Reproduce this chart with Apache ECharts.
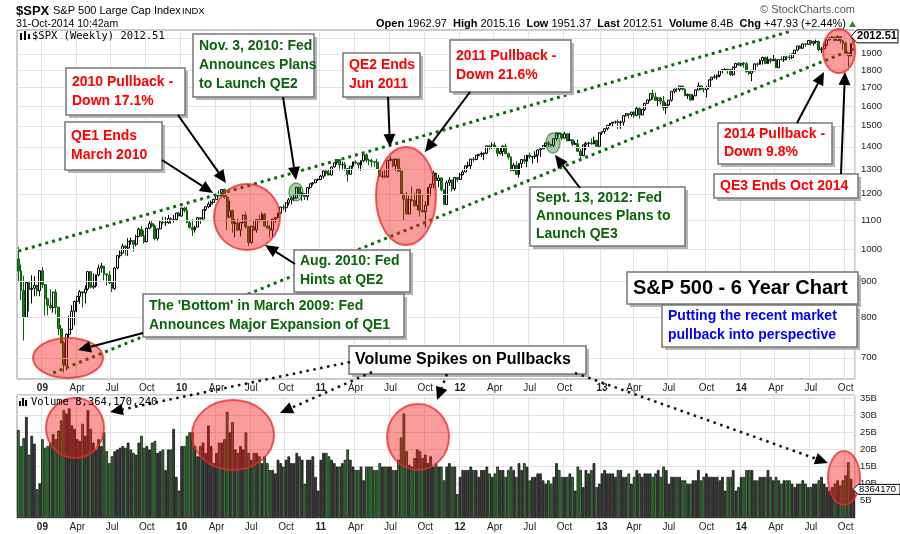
<!DOCTYPE html>
<html>
<head>
<meta charset="utf-8">
<script src="https://cdn.jsdelivr.net/npm/echarts@6/dist/echarts.min.js"></script>
<style>
html,body{margin:0;padding:0;background:#fff;}
#chart{width:900px;height:534px;}
</style>
</head>
<body>
<div id="chart"></div>
<script>
// weekly bars, first week starts Mon 2008-11-03; open = previous close
const firstOpen = 968.75;
const lastOpen = 1962.97;

const close08 = [930.99,873.29,800.03,896.24,876.07,879.73,887.88,872.80,931.80];
const close09 = [890.35,850.12,831.95,825.88,868.60,826.84,770.05,735.09,683.38,756.55,768.54,815.94,842.50,856.56,869.60,866.23,877.52,929.23,882.88,887.00,919.14,940.09,946.21,921.23,918.90,896.42,879.13,940.38,979.26,987.48,1010.48,1004.09,1026.13,1028.93,1016.40,1042.73,1068.30,1044.38,1025.21,1071.49,1087.68,1079.60,1036.19,1069.30,1093.48,1091.38,1091.49,1105.98,1102.47,1102.47,1126.48,1115.10];
const close10 = [1144.98,1136.03,1091.76,1073.87,1066.19,1075.51,1109.17,1104.49,1138.70,1149.99,1159.90,1166.59,1178.10,1194.37,1192.13,1217.28,1186.69,1110.88,1135.68,1087.69,1089.41,1064.88,1091.60,1117.51,1076.76,1022.58,1077.96,1064.88,1102.66,1101.60,1121.64,1079.25,1071.69,1064.59,1104.51,1109.55,1125.59,1148.67,1146.24,1165.15,1176.19,1183.08,1183.26,1225.85,1199.21,1199.73,1189.40,1224.71,1240.40,1243.91,1256.77,1257.64];
const close11 = [1271.50,1293.24,1283.35,1276.34,1310.87,1329.15,1343.01,1319.88,1321.15,1304.28,1279.21,1313.80,1332.41,1328.17,1319.68,1337.38,1363.61,1340.20,1337.77,1333.27,1331.10,1300.16,1270.98,1271.50,1268.45,1339.67,1343.80,1316.14,1345.02,1292.28,1199.38,1178.81,1123.53,1176.80,1173.97,1154.23,1216.01,1136.43,1131.42,1155.46,1224.58,1238.25,1285.09,1253.23,1263.85,1215.65,1158.67,1244.28,1255.19,1219.66,1265.33,1257.60];
const close12 = [1277.81,1289.09,1315.38,1316.33,1344.90,1342.64,1361.23,1365.74,1369.63,1370.87,1404.17,1397.11,1408.47,1398.08,1370.26,1378.53,1403.36,1369.10,1353.39,1295.22,1317.82,1278.04,1325.66,1342.84,1335.02,1362.16,1354.68,1356.78,1362.66,1385.97,1390.99,1405.87,1418.16,1411.13,1406.58,1437.92,1465.77,1460.15,1440.67,1460.93,1428.59,1433.19,1411.94,1414.20,1379.85,1359.88,1409.15,1416.18,1418.07,1413.58,1430.15,1402.43,1466.47];
const close13 = [1472.05,1485.98,1502.96,1513.17,1517.93,1519.79,1515.60,1518.20,1551.18,1560.70,1556.89,1569.19,1553.28,1588.85,1555.25,1582.24,1614.42,1633.70,1667.47,1649.60,1630.74,1643.38,1626.73,1592.43,1606.28,1631.89,1680.19,1692.09,1691.65,1709.67,1691.42,1655.83,1663.50,1632.97,1655.17,1687.99,1709.91,1691.75,1690.50,1703.20,1744.50,1759.77,1761.64,1770.61,1798.18,1804.76,1805.81,1805.09,1775.32,1818.32,1841.40,1831.37];
const close14 = [1842.37,1838.70,1790.29,1782.59,1797.02,1838.63,1836.25,1859.45,1878.04,1841.13,1866.52,1857.62,1865.09,1815.69,1864.85,1863.40,1881.14,1878.48,1877.86,1900.53,1923.57,1949.44,1936.16,1962.87,1960.96,1985.44,1967.57,1978.22,1978.34,1925.15,1931.59,1955.06,1988.40,2003.37,2007.71,1985.54,2010.40,1982.85,1967.90,1906.13,1886.76,1964.58,2012.51];

const high08 = [1007,951,917,897,897,918,915,890,934];
const high09 = [943,892,852,877,870,877,827,780,740,758,804,832,845,858,875,870,888,930,930,924,921,951,956,947,925,931,899,942,980,996,1018,1013,1037,1039,1030,1049,1074,1080,1064,1074,1097,1101,1085,1071,1097,1113,1112,1119,1111,1119,1128,1131];
const high10 = [1146,1150,1150,1100,1104,1080,1112,1112,1139,1151,1169,1174,1181,1195,1213,1218,1220,1197,1173,1140,1104,1106,1094,1121,1131,1078,1080,1100,1104,1120,1129,1127,1101,1081,1105,1112,1127,1150,1158,1167,1184,1190,1197,1227,1227,1207,1203,1226,1241,1247,1259,1262];
const high11 = [1277,1294,1296,1302,1312,1330,1344,1344,1333,1332,1305,1315,1333,1339,1329,1339,1365,1371,1347,1346,1334,1346,1301,1293,1298,1341,1356,1345,1347,1346,1307,1200,1208,1191,1230,1204,1220,1220,1195,1171,1225,1240,1293,1285,1277,1266,1217,1254,1267,1255,1265,1269];
const high12 = [1285,1296,1316,1333,1345,1354,1363,1368,1378,1374,1406,1409,1420,1422,1399,1394,1406,1415,1373,1357,1328,1334,1326,1345,1363,1363,1374,1358,1380,1387,1395,1407,1419,1427,1413,1439,1470,1467,1464,1471,1462,1465,1434,1428,1434,1389,1410,1424,1423,1439,1448,1431,1467];
const high13 = [1473,1487,1504,1514,1519,1525,1531,1526,1553,1564,1564,1570,1573,1597,1593,1585,1618,1636,1668,1688,1674,1646,1649,1654,1620,1633,1681,1694,1698,1710,1711,1697,1668,1665,1664,1690,1730,1711,1701,1710,1746,1761,1775,1775,1799,1806,1813,1810,1809,1823,1844,1849];
const high14 = [1843,1850,1850,1798,1798,1841,1847,1867,1883,1882,1884,1875,1897,1874,1866,1884,1885,1888,1902,1902,1925,1950,1955,1964,1968,1986,1986,1984,1991,1985,1943,1964,1992,2005,2012,2010,2019,2011,1986,1978,1906,1965,2015];

const low08 = [898,847,741,799,815,837,857,857,857];
const low09 = [880,804,805,821,812,808,754,734,667,672,747,768,779,814,836,826,837,873,879,878,882,915,926,903,888,892,869,875,936,972,986,980,978,1015,992,1010,1040,1042,1019,1023,1068,1074,1030,1029,1068,1085,1079,1087,1086,1092,1100,1114];
const low10 = [1114,1128,1090,1071,1045,1056,1075,1086,1103,1134,1144,1149,1165,1175,1189,1187,1181,1065,1110,1056,1040,1061,1043,1089,1070,1011,1018,1063,1056,1093,1100,1076,1069,1039,1041,1091,1107,1122,1136,1131,1155,1159,1171,1181,1193,1173,1176,1174,1218,1233,1243,1251];
const low11 = [1257,1262,1271,1275,1274,1308,1320,1294,1302,1294,1249,1278,1303,1322,1304,1294,1331,1330,1317,1311,1311,1298,1268,1262,1263,1265,1335,1308,1294,1290,1198,1101,1120,1121,1170,1150,1137,1114,1127,1075,1155,1191,1222,1215,1227,1209,1158,1158,1231,1209,1212,1248];
const low12 = [1257,1274,1288,1307,1300,1333,1340,1357,1354,1340,1366,1386,1391,1392,1357,1365,1358,1367,1343,1291,1292,1277,1266,1306,1324,1309,1347,1325,1345,1329,1354,1389,1397,1398,1397,1396,1428,1449,1430,1439,1426,1427,1403,1408,1376,1343,1358,1385,1398,1411,1412,1398,1398];
const low13 = [1456,1461,1478,1496,1495,1510,1485,1485,1501,1547,1538,1547,1539,1548,1536,1552,1575,1612,1625,1635,1630,1598,1608,1577,1560,1601,1624,1668,1676,1679,1684,1654,1639,1627,1632,1654,1687,1687,1674,1646,1692,1743,1752,1746,1760,1781,1800,1779,1767,1767,1816,1827];
const low14 = [1823,1815,1789,1772,1737,1795,1822,1834,1834,1839,1839,1842,1856,1813,1814,1859,1850,1859,1863,1868,1899,1915,1930,1931,1944,1958,1953,1952,1965,1916,1905,1928,1950,1986,1996,1980,1984,1966,1926,1899,1821,1886,1951];

// weekly volume, billions of shares
const vol08 = [25.7,21.0,23.3,29.5,18.5,24.0,21.7,8.4,10.1];
const vol09 = [23,20.5,21,22,24.5,23,25.5,28.5,31.5,30.5,32,27,26,23,22.5,27.5,24,31.5,26,22,20,23,21,25,19.5,16,18,19.5,20,20.5,21,20.5,22,20,19,18.5,22,24,20.5,21,20,22,22.5,19,19.5,20,14,20,20,26,12,8];
const vol10 = [21,21,24,25,25,21,18,21,22,19,27,21,16,19,22,22,23,31,25,28,20,19,21,20,25,19,17,19,19,18,16,18,16,14,14,13,17,16,15,17,18,16,16,19,18,17,10,17,17,18,12,8];
const vol11 = [17,19,19,18,17,16,15,15,16,17,20,17,15,14,14,15,11,15,15,15,14,14,16,15,15,15,15,14,14,17,23.5,30.5,19.5,15.5,15,17.5,20,19.5,17.5,18.5,16,18,15,16,15,15,11,15,16,15,15,7];
const vol12 = [12,14,14,14,15,14,14,12,14,14,15,13,12,13,15,14,14,12,14,15,14,12,16,14,16,15,11,12,12,13,13,11,10,11,10,12,16,14,12,12,12,13,12,8,15,14,9,14,13,14,16,9,10];
const vol13 = [13,14,13,13,13,12,14,14,12,12,13,10,12,14,13,12,13,13,13,12,13,14,12,15,14,10,12,12,12,12,11,11,10,10,11,11,14,11,12,13,12,12,12,12,11,12,8,12,12,14,8,9];
const vol14 = [12,12,14,14,14,11,11,12,12,12,14,12,11,12,11,10,11,11,11,10,9,10,10,11,10,9,9,10,10,11,12,10,9,8,9,10,11,9.5,11,12.4,16.3,11.4,8.36];

const priceTicks = [700,800,900,1000,1100,1200,1300,1400,1500,1600,1700,1800,1900,2000];
const quarterNames = ['', 'Apr', 'Jul', 'Oct'];
// trend channel, [week index, price]
const upperTrend = [[0, 994], [289, 2049]];
const lowerTrend = [[13, 666], [312, 1931]];

const closes = [].concat(close08, close09, close10, close11, close12, close13, close14);
const highs = [].concat(high08, high09, high10, high11, high12, high13, high14);
const lows = [].concat(low08, low09, low10, low11, low12, low13, low14);
const vols = [].concat(vol08, vol09, vol10, vol11, vol12, vol13, vol14);

const startDate = Date.UTC(2008, 10, 3);
const weeks = closes.map((c, i) => new Date(startDate + i * 7 * 864e5));
const cats = weeks.map(d => d.toISOString().slice(0, 10));
const qIdx = new Set();
weeks.forEach((d, i) => {
    const m = d.getUTCMonth();
    if (m % 3 === 0 && i > 0 && weeks[i - 1].getUTCMonth() !== m) qIdx.add(i);
});
const isQ = (i) => qIdx.has(i);

const opens = closes.map((c, i) => i === 0 ? firstOpen : closes[i - 1]);
opens[opens.length - 1] = lastOpen;
const last = closes.length - 1;

const candles = closes.map((c, i) => {
    const item = {value: [opens[i], c, lows[i], highs[i]]};
    if (i === last) item.itemStyle = {color: '#ffd400', borderColor: '#b89400'};
    return item;
});
const volData = vols.map((v, i) => ({
    value: v,
    itemStyle: {color: closes[i] >= (i === 0 ? firstOpen : closes[i - 1]) ? '#3d3d3d' : '#2f8c2f'}
}));

const SANS = '"Liberation Sans", Arial, sans-serif';
const MONO = '"DejaVu Sans Mono", monospace';
const GRID = '#e2e2e2';
const RED = '#ff0000', GRN = '#0b650b', BLUE = '#0000ff';

function xAxisFor(g) {
    return {
        type: 'category', gridIndex: g, data: cats, boundaryGap: true,
        axisLine: {show: false},
        axisTick: {show: false, alignWithLabel: true, interval: isQ},
        axisLabel: {
            interval: isQ, margin: 4, fontSize: 10, color: '#222',
            formatter: (val) => {
                const d = new Date(val + 'T00:00:00Z'), m = d.getUTCMonth();
                if (m === 0) return '{y|' + String(d.getUTCFullYear()).slice(2) + '}';
                return quarterNames[m / 3];
            },
            rich: {y: {fontWeight: 'bold', fontSize: 10, color: '#222'}}
        },
        splitLine: {show: true, interval: isQ, lineStyle: {color: GRID, width: 1}}
    };
}

const chart = echarts.init(document.getElementById('chart'));
chart.setOption({
    animation: false,
    backgroundColor: '#fff',
    textStyle: {fontFamily: SANS},
    grid: [
        {left: 17, top: 30, width: 838, height: 349, show: true, borderColor: '#999', borderWidth: 1, backgroundColor: '#fff'},
        {left: 17, top: 395, width: 838, height: 123, show: true, borderColor: '#999', borderWidth: 1, backgroundColor: '#fff'}
    ],
    xAxis: [xAxisFor(0), xAxisFor(1)],
    yAxis: [
        {type: 'log', gridIndex: 0, position: 'right', logBase: 10, min: 653, max: 2055,
         axisLine: {show: false}, axisTick: {show: false}, axisLabel: {show: false}, splitLine: {show: false}},
        {type: 'value', gridIndex: 1, position: 'right', min: 0, max: 35.9, interval: 5,
         axisLine: {show: false}, axisTick: {show: false},
         splitLine: {lineStyle: {color: GRID, width: 1}},
         axisLabel: {showMaxLabel: false, margin: 5, fontSize: 9.5, color: '#222',
                     formatter: v => v === 0 ? '' : v + 'B'}}
    ],
    series: [
        {   // price grid lines and right-hand tick labels
            type: 'line', xAxisIndex: 0, yAxisIndex: 0, data: [], z: 1, silent: true,
            markLine: {
                silent: true, symbol: ['none', 'none'], animation: false,
                lineStyle: {color: GRID, width: 1, type: 'solid'},
                label: {show: true, position: 'end', distance: 6, color: '#222', fontSize: 9.5,
                        formatter: p => p.value === 2000 ? '' : String(p.value)},
                emphasis: {disabled: true},
                data: priceTicks.map(v => ({yAxis: v}))
            }
        },
        {
            type: 'candlestick', xAxisIndex: 0, yAxisIndex: 0, data: candles, barWidth: 2.4, z: 3,
            itemStyle: {color: '#ffffff', color0: '#1f7f1f', borderColor: '#000000', borderColor0: '#0d5d0d', borderWidth: 1},
            markLine: {
                silent: true, symbol: ['none', 'none'], animation: false,
                lineStyle: {color: '#0b6e0b', width: 3, type: [3, 4]},
                label: {show: false},
                data: [
                    [{coord: [cats[upperTrend[0][0]], upperTrend[0][1]]}, {coord: [cats[upperTrend[1][0]], upperTrend[1][1]]}],
                    [{coord: [cats[lowerTrend[0][0]], lowerTrend[0][1]]}, {coord: [cats[lowerTrend[1][0]], lowerTrend[1][1]]}]
                ]
            }
        },
        {
            type: 'bar', xAxisIndex: 1, yAxisIndex: 1, data: volData, barCategoryGap: '0%', z: 3,
            itemStyle: {borderColor: '#111', borderWidth: 0.8}
        }
    ]
});

// annotations
const els = [];
function ellipse(cx, cy, rx, ry, red) {
    els.push({type: 'ellipse', z: 50, shape: {cx, cy, rx, ry},
        style: red ? {fill: 'rgba(245,20,20,0.42)', stroke: 'rgba(235,40,40,0.75)', lineWidth: 2}
                   : {fill: 'rgba(20,110,20,0.35)', stroke: 'rgba(20,110,20,0.55)', lineWidth: 1.5}});
}
function box(x, y, w, h, lines, color, font, lh) {
    els.push({type: 'rect', z: 60, shape: {x: x + 3, y: y + 3, width: w, height: h}, style: {fill: '#b5b5b5'}});
    els.push({type: 'rect', z: 61, shape: {x, y, width: w, height: h}, style: {fill: '#fff', stroke: '#777', lineWidth: 1.5}});
    const top = y + (h - lines.length * lh) / 2;
    lines.forEach((t, k) => els.push({type: 'text', z: 62,
        style: {text: t, x: x + 6, y: top + lh * (k + 0.5), font, fill: color, verticalAlign: 'middle'}}));
}
function arrow(x1, y1, x2, y2, dotted) {
    const a = Math.atan2(y2 - y1, x2 - x1), L = 13, W = 6;
    const bx = x2 - L * Math.cos(a), by = y2 - L * Math.sin(a);
    els.push({type: 'line', z: 70, shape: {x1, y1, x2: bx, y2: by},
        style: dotted ? {stroke: '#111', lineWidth: 2.5, lineDash: [2.5, 4.5]} : {stroke: '#000', lineWidth: 2}});
    els.push({type: 'polygon', z: 70, shape: {points: [[x2, y2],
        [bx - W * Math.sin(a), by + W * Math.cos(a)], [bx + W * Math.sin(a), by - W * Math.cos(a)]]},
        style: {fill: '#000'}});
}
function text(t, x, y, font, fill, align, z) {
    els.push({type: 'text', z: z || 80, style: {text: t, x, y, font, fill: fill || '#000', align: align || 'left', verticalAlign: 'middle'}});
}

// circles on price and volume
ellipse(68, 358, 35, 20, true);
ellipse(247, 217, 33, 33, true);
ellipse(406, 196, 30, 49, true);
ellipse(839, 51, 16, 22, true);
ellipse(296, 192, 7, 9, false);
ellipse(553, 143, 7, 10, false);
ellipse(75, 428, 29, 30, true);
ellipse(233, 435, 41, 35, true);
ellipse(418, 437, 31, 33, true);
ellipse(844, 478, 16, 27, true);

const F14 = 'bold 14px ' + SANS;
box(66, 68, 119, 47, ['2010 Pullback -', 'Down 17.1%'], RED, F14, 19);
box(193, 34, 121, 63, ['Nov. 3, 2010: Fed', 'Announces Plans', 'to Launch QE2'], GRN, F14, 19);
box(343, 53, 77, 44, ['QE2 Ends', 'Jun 2011'], RED, F14, 19);
box(450, 40, 121, 52, ['2011 Pullback -', 'Down 21.6%'], RED, F14, 19);
box(65, 122, 97, 48, ['QE1 Ends', 'March 2010'], RED, F14, 19);
box(294, 250, 116, 42, ['Aug. 2010: Fed', 'Hints at QE2'], GRN, F14, 19);
box(143, 294, 261, 43, ["The 'Bottom' in March 2009: Fed", 'Announces Major Expansion of QE1'], GRN, F14, 19);
box(530, 187, 155, 59, ['Sept. 13, 2012: Fed', 'Announces Plans to', 'Launch QE3'], GRN, F14, 18);
box(718, 123, 114, 41, ['2014 Pullback -', 'Down 9.8%'], RED, F14, 18);
box(714, 174, 144, 24, ['QE3 Ends Oct 2014'], RED, F14, 18);
box(627, 272, 231, 32, ['S&P 500 - 6 Year Chart'], '#000', 'bold 20px ' + SANS, 24);
box(662, 305, 195, 42, ['Putting the recent market', 'pullback into perspective'], BLUE, 'bold 14px ' + SANS, 19);
box(349, 346, 237, 28, ['Volume Spikes on Pullbacks'], '#000', 'bold 16px ' + SANS, 20);

arrow(162, 160, 213, 193);
arrow(178, 115, 226, 183);
arrow(283, 97, 296, 180);
arrow(388, 97, 390, 147);
arrow(470, 92, 425, 152);
arrow(295, 264, 265, 245);
arrow(143, 333, 78, 350);
arrow(580, 188, 555, 155);
arrow(797, 123, 824, 72);
arrow(841, 174, 845, 72);
arrow(350, 362, 110, 412, true);
arrow(372, 372, 280, 413, true);
arrow(447, 374, 437, 400, true);
arrow(575, 373, 828, 463, true);

// header
text('$SPX', 16, 11, 'bold 13px ' + SANS);
text('S&P 500 Large Cap Index', 53, 11, '11px ' + SANS);
text('INDX', 182, 11, '9.5px ' + SANS);
text('31-Oct-2014 10:42am', 16, 24, '10.5px ' + SANS);
text('\u00a9 StockCharts.com', 855, 10, '11px ' + SANS, '#555', 'right');
els.push({type: 'text', z: 80, style: {
    text: '{b|Open} 1962.97  {b|High} 2015.16  {b|Low} 1951.37  {b|Last} 2012.51  {b|Volume} 8.4B  {b|Chg} +47.93 (+2.44%)',
    x: 846, y: 24, font: '11px ' + SANS, fill: '#000', align: 'right', verticalAlign: 'middle',
    rich: {b: {fontWeight: 'bold', fontSize: 11, fontFamily: SANS}}}});
els.push({type: 'polygon', z: 80, shape: {points: [[849, 27], [856, 27], [852.5, 21]]}, style: {fill: '#2f8c2f'}});

// panel legends
els.push({type: 'rect', z: 80, shape: {x: 20, y: 33, width: 2, height: 7}, style: {fill: '#000'}});
els.push({type: 'rect', z: 80, shape: {x: 24, y: 31, width: 2, height: 9}, style: {fill: '#000'}});
els.push({type: 'rect', z: 80, shape: {x: 28, y: 34, width: 2, height: 5}, style: {fill: '#000'}});
text('$SPX (Weekly) 2012.51', 32, 36, '10.5px ' + MONO);
els.push({type: 'rect', z: 80, shape: {x: 19, y: 401, width: 2, height: 5}, style: {fill: '#000'}});
els.push({type: 'rect', z: 80, shape: {x: 22, y: 398, width: 2, height: 8}, style: {fill: '#000'}});
els.push({type: 'rect', z: 80, shape: {x: 25, y: 400, width: 2, height: 6}, style: {fill: '#000'}});
text('Volume 8,364,170,240', 31, 402, '10.5px ' + MONO);

// last-value tags placed through the axes
const py = chart.convertToPixel({yAxisIndex: 0}, closes[last]);
els.push({type: 'polygon', z: 90, shape: {points: [[851, py], [857, py - 6.5], [898, py - 6.5], [898, py + 6.5], [857, py + 6.5]]},
    style: {fill: '#fff', stroke: '#000', lineWidth: 1}});
text('2012.51', 877, py, 'bold 11px ' + SANS, '#000', 'center', 95);
const vy = chart.convertToPixel({yAxisIndex: 1}, vols[last]);
els.push({type: 'polygon', z: 90, shape: {points: [[853, vy], [858, vy - 5], [900, vy - 5], [900, vy + 5], [858, vy + 5]]},
    style: {fill: '#fff', stroke: '#000', lineWidth: 1}});
text('8364170', 859, vy, '9.5px ' + SANS, '#000', 'left', 95);

chart.setOption({graphic: {elements: els}});
</script>
</body>
</html>
